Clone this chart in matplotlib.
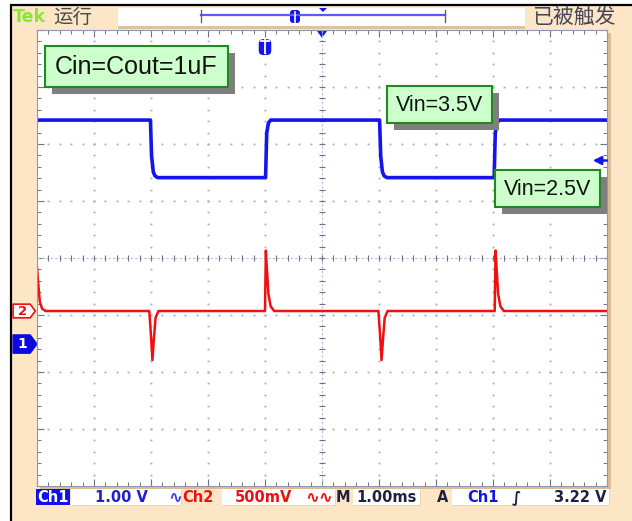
import numpy as np
import matplotlib.pyplot as plt
from matplotlib.patches import Rectangle, Polygon, FancyBboxPatch

# Scope capture: time in ms relative to screen centre, volts per channel
ch1_t = [-5.00, -3.01, -2.99, -2.96, -2.93, -2.88,
         -0.99, -0.97, -0.94, -0.90,
         1.01, 1.03, 1.06, 1.09, 1.14,
         3.02, 3.04, 3.07, 3.11, 5.00]
ch1_v = [3.93, 3.93, 3.30, 3.02, 2.95, 2.92,
         2.92, 3.70, 3.88, 3.93,
         3.93, 3.30, 3.02, 2.95, 2.92,
         2.92, 3.70, 3.88, 3.93, 3.93]

ch2_t = [-5.00, -4.98, -4.95, -4.91, -4.85,
         -3.03, -3.00, -2.975, -2.95, -2.92, -2.87,
         -1.00, -0.985, -0.97, -0.94, -0.90, -0.84,
         0.99, 1.02, 1.045, 1.07, 1.10, 1.15,
         3.03, 3.045, 3.06, 3.09, 3.13, 3.19, 5.00]
ch2_v = [0.38, 0.25, 0.08, 0.02, 0.0,
         0.0, -0.22, -0.43, -0.25, -0.06, 0.0,
         0.0, 0.53, 0.40, 0.15, 0.04, 0.0,
         0.0, -0.22, -0.43, -0.25, -0.06, 0.0,
         0.0, 0.53, 0.40, 0.15, 0.04, 0.0, 0.0]

# scope settings
ch1_scale = 1.0    # V/div
ch2_scale = 0.5    # V/div
ch1_pos = -1.51    # div
ch2_pos = -0.93    # div
trig_level = 3.22  # V
trig_time = -1.0   # ms

notes = ["Cin=Cout=1uF", "Vin=3.5V", "Vin=2.5V"]
top_left = ["Tek", "运行"]
top_right = "已被触发"

W, H = 632, 521
BLUE = '#1414f0'
RED = '#f01010'
DARK = '#202040'
CJK = ['Noto Sans CJK SC', 'DejaVu Sans']

fig = plt.figure(figsize=(W / 100, H / 100), dpi=100)

# background layer in pixel coordinates
bg = fig.add_axes([0, 0, 1, 1])
bg.set_xlim(0, W)
bg.set_ylim(H, 0)
bg.axis('off')
bg.add_patch(Rectangle((11, 5), 660, 560, fc='#fde6c6', ec='black', lw=1.6))
bg.add_patch(Rectangle((40, 33), 571, 456, fc='#dcbc94', ec='none'))

# top status strip
bg.text(13, 17, top_left[0], color='#88e830', fontsize=12.5, fontweight='bold',
        va='center', ha='left')
bg.text(53, 17, top_left[1], color='#4a4a4a', fontsize=14, va='center',
        ha='left', family=CJK)
bg.add_patch(Rectangle((118, 26), 407, 2.5, fc='#dcc4a2', ec='none'))
bg.add_patch(Rectangle((118, 8), 407, 18, fc='white', ec='none'))
bg.plot([201, 445], [15, 15], color='#5a5aff', lw=1.6)
bg.plot([201, 201], [10, 22], color='#555566', lw=0.9)
bg.plot([445, 445], [10, 22], color='#555566', lw=0.9)
bg.add_patch(FancyBboxPatch((291, 11), 8, 11, boxstyle='round,pad=1,rounding_size=3',
                            fc=BLUE, ec='none'))
bg.plot([295, 295], [12, 22], color='white', lw=1.2)
bg.add_patch(Polygon([[319, 8], [327, 8], [323, 12]], fc=BLUE, ec='none'))
bg.text(532, 17, top_right, color='#44445a', fontsize=15, va='center',
        ha='left', family=CJK)

# graticule: 10 x 8 divisions
gx = fig.add_axes([37 / W, 1 - 486 / H, 570 / W, 456 / H])
gx.set_xlim(-5, 5)
gx.set_ylim(-4, 4)
gx.set_facecolor('white')
for s in gx.spines.values():
    s.set_color('#9098b0')
    s.set_linewidth(0.8)
gx.set_xticks(np.arange(-5, 6))
gx.set_yticks(np.arange(-4, 5))
gx.set_xticks(np.arange(-5, 5.01, 0.2), minor=True)
gx.set_yticks(np.arange(-4, 4.01, 0.2), minor=True)
gx.tick_params(which='both', direction='in', top=True, right=True,
               labelbottom=False, labelleft=False, color='#6a7090')
gx.tick_params(which='major', length=5, width=0.8)
gx.tick_params(which='minor', length=3, width=0.7)

ydots = np.arange(-4, 4.01, 0.2)
xdots = np.arange(-5, 5.01, 0.2)
for x in range(-4, 5):
    if x != 0:
        gx.plot([x] * len(ydots), ydots, ls='none', marker='s', ms=1.3,
                mew=0, color='#a4a8b8')
for y in range(-3, 4):
    if y != 0:
        gx.plot(xdots, [y] * len(xdots), ls='none', marker='s', ms=1.3,
                mew=0, color='#a4a8b8')
gx.axhline(0, color='#b8bccc', lw=0.8, ls=(0, (2, 2)))
gx.axvline(0, color='#b8bccc', lw=0.8, ls=(0, (2, 2)))
gx.plot(xdots, np.zeros_like(xdots), ls='none', marker='|', ms=5,
        mew=0.8, color='#6a7090')
gx.plot(np.zeros_like(ydots), ydots, ls='none', marker='_', ms=5,
        mew=0.8, color='#6a7090')

# traces
gx.plot(ch2_t, np.array(ch2_v) / ch2_scale + ch2_pos, color=RED, lw=1.8)
gx.plot(ch1_t, np.array(ch1_v) / ch1_scale + ch1_pos, color=BLUE, lw=2.6)

# channel ground markers at left edge
p2 = ch2_pos
gx.add_patch(Polygon([[-5.42, p2 - 0.12], [-5.12, p2 - 0.12], [-5.03, p2],
                      [-5.12, p2 + 0.12], [-5.42, p2 + 0.12]],
                     fc='white', ec=RED, lw=1.2, clip_on=False))
gx.text(-5.25, p2, '2', color=RED, fontsize=9.5, fontweight='bold',
        ha='center', va='center', clip_on=False)
p1 = ch1_pos
gx.add_patch(Polygon([[-5.42, p1 - 0.16], [-5.12, p1 - 0.16], [-5.0, p1],
                      [-5.12, p1 + 0.16], [-5.42, p1 + 0.16]],
                     fc='#0a0ae0', ec='#0a0ae0', lw=1, clip_on=False))
gx.text(-5.25, p1, '1', color='white', fontsize=10, fontweight='bold',
        ha='center', va='center', clip_on=False)

# trigger level arrow, trigger point and expansion markers
tl = trig_level / ch1_scale + ch1_pos
gx.annotate('', xy=(4.75, tl), xytext=(5.0, tl), annotation_clip=False,
            arrowprops=dict(arrowstyle='-|>', color=BLUE, lw=1.8,
                            mutation_scale=12, shrinkA=0, shrinkB=0))
gx.add_patch(FancyBboxPatch((trig_time - 0.09, 3.58), 0.18, 0.24,
                            boxstyle='round,pad=0.02,rounding_size=0.08',
                            fc=BLUE, ec='none'))
gx.plot([trig_time, trig_time], [3.6, 3.82], color='white', lw=1.3)
gx.plot([trig_time - 0.07, trig_time + 0.07], [3.8, 3.8], color='white', lw=1.3)
gx.add_patch(Polygon([[-0.1, 4.0], [0.1, 4.0], [0.0, 3.86]], fc=BLUE,
                     ec='none', clip_on=False))

# annotations and bottom status bar on top
fg = fig.add_axes([0, 0, 1, 1])
fg.set_xlim(0, W)
fg.set_ylim(H, 0)
fg.axis('off')
fg.patch.set_alpha(0)

boxes = [(45, 46, 183, 41, 18), (387, 86, 105, 37, 15.5), (495, 170, 105, 37, 15.5)]
for label, (x, y, w, h, fs) in zip(notes, boxes):
    fg.add_patch(Rectangle((x + 7, y + 7), w, h, fc='#7f7f7f', ec='none'))
    fg.add_patch(Rectangle((x, y), w, h, fc='#ccffcc', ec='#1f8a1f', lw=1.5))
    fg.text(x + w / 2, y + h / 2 + 1, label, fontsize=fs, color='#111111',
            ha='center', va='center', family='Liberation Sans')

fg.add_patch(Rectangle((36, 489), 34, 16, fc='#1010ee', ec='none'))
for x, w in [(71, 110), (222, 113), (353, 67), (452, 157)]:
    fg.add_patch(Rectangle((x + 1, 490), w, 16, fc='#e8d4b8', ec='none'))
    fg.add_patch(Rectangle((x, 489), w, 16, fc='white', ec='none'))
status = [(53, 'Ch1', 'white', 'center', 10.5),
          (121, '1.00 V', '#2020d0', 'center', 10.5),
          (168, '∿', '#4040e0', 'left', 12),
          (182, 'Ch2', RED, 'left', 10.5),
          (264, '500mV', RED, 'center', 10.5),
          (305, '∿∿', RED, 'left', 12),
          (343, 'M', DARK, 'center', 10.5),
          (387, '1.00ms', DARK, 'center', 10.5),
          (443, 'A', DARK, 'center', 10.5),
          (483, 'Ch1', '#1515dd', 'center', 10.5),
          (516, '∫', DARK, 'center', 11),
          (607, '3.22 V', DARK, 'right', 10.5)]
for x, s, c, ha, fs in status:
    fg.text(x, 497.5, s, color=c, fontsize=fs, fontweight='bold',
            ha=ha, va='center')

fig.savefig('out.png', dpi=100)
